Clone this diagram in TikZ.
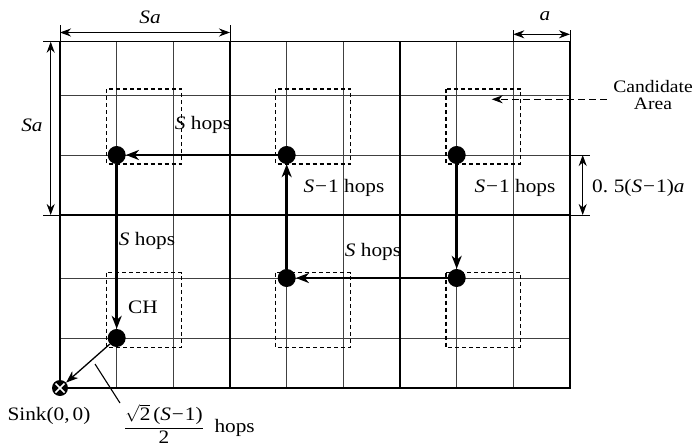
\documentclass[tikz,border=0pt]{standalone}
\usepackage{fontspec}
\setmainfont{Liberation Serif}[FakeStretch=1.12]
\usetikzlibrary{arrows.meta}
\newcommand{\smin}{\textit{S}\kern0.05em−\kern0.05em1}
\begin{document}
\begin{tikzpicture}[x=1pt,y=-1pt,
  font=\fontsize{19}{21}\selectfont,
  minor/.style={draw=black!75, line width=0.8pt},
  major/.style={draw=black, line width=1.3pt},
  extline/.style={draw=black, line width=1pt},
  dimarrow/.style={draw=black, line width=1.2pt, {Stealth[length=11pt,width=8pt,inset=3.5pt]}-{Stealth[length=11pt,width=8pt,inset=3.5pt]}},
  area/.style={draw=black, line width=1.2pt, dash pattern=on 4pt off 3pt},
  node dot/.style={circle, fill=black, inner sep=0pt, minimum size=18pt},
  route/.style={draw=black, line width=2.8pt, -{Stealth[length=13pt,width=10pt,inset=4pt]}},
  tosink/.style={draw=black, line width=1.3pt, -{Stealth[length=12pt,width=9pt,inset=3.5pt]}},
  lbl/.style={inner sep=1pt}
]
\useasboundingbox (0,0) rectangle (697,447);
\fill[white] (0,0) rectangle (697,447);

% minor grid lines
\foreach \x in {116.7,173.3,286.7,343.3,456.7,513.3}
  \draw[minor] (\x,41.7) -- (\x,388);
\foreach \y in {95,155,278,338}
  \draw[minor] (60,\y) -- (570,\y);

% major grid lines and border
\foreach \x in {230,400}
  \draw[major] (\x,41.7) -- (\x,388);
\draw[major] (60,215) -- (570,215);
\draw[major] (60,41.7) rectangle (570,388);

% extension lines for the dimensions
\draw[extline] (43,41.7) -- (60,41.7);
\draw[extline] (43,215) -- (60,215);
\draw[extline] (60,25) -- (60,41.7);
\draw[extline] (230,25) -- (230,41.7);
\draw[extline] (513.3,30) -- (513.3,41.7);
\draw[extline] (570,30) -- (570,41.7);
\draw[extline] (570,155) -- (590,155);
\draw[extline] (570,215) -- (590,215);

% dimension arrows
\coordinate (topL) at (60,32.5);
\coordinate (topR) at (230,32.5);
\coordinate (leftT) at (50.7,41.7);
\coordinate (leftB) at (50.7,215);
\coordinate (aL) at (513.3,34.3);
\coordinate (aR) at (570,34.3);
\coordinate (hT) at (582.7,155);
\coordinate (hB) at (582.7,215);
\draw[dimarrow] (topL) -- (topR);
\draw[dimarrow] (leftT) -- (leftB);
\draw[dimarrow] (aL) -- (aR);
\draw[dimarrow] (hT) -- (hB);
\node[lbl] (lsatop) at (150,17) {\textit{Sa}};
\node[lbl] (lsaleft) at (32,125) {\textit{Sa}};
\node[lbl] (la) at (545,16) {\textit{a}};
\node[lbl, anchor=west] (lhalf) at (591,188) {0.\hspace{0.3em}5(\smin)\textit{a}};

% candidate areas
\draw[area] (106.7,89) rectangle (181.7,164);
\draw[area] (275.7,89) rectangle (350.7,164);
\draw[area] (446,89) rectangle (520.3,164);
\draw[area] (106.7,272.7) rectangle (181.7,347.3);
\draw[area] (275.7,272.7) rectangle (350.7,347.3);
\draw[area] (446,272.7) rectangle (520.3,347.3);

% candidate area callout
\node[lbl, align=center, font=\fontsize{17.5}{16.5}\selectfont] (lcand) at (653,95) {Candidate\\Area};
\coordinate (candfrom) at (606.7,99.3);
\coordinate (candto) at (491.7,99.3);
\draw[draw=black, line width=1.1pt, dash pattern=on 7pt off 4pt, -{Stealth[length=11pt,width=8pt,inset=3.5pt]}] (candfrom) -- (candto);

% cluster heads
\node[node dot] (d1) at (116.7,155) {};
\node[node dot] (d2) at (286.7,155) {};
\node[node dot] (d3) at (456.7,155) {};
\node[node dot] (d4) at (456.7,278) {};
\node[node dot] (d5) at (286.7,278) {};
\node[node dot] (ch) at (116.7,338) {};
\node[circle, fill=black, inner sep=0pt, minimum size=16pt,
  path picture={\draw[white, line width=1.7pt]
    ([shift={(-4.5,-4.5)}]path picture bounding box.center) -- ([shift={(4.5,4.5)}]path picture bounding box.center)
    ([shift={(-4.5,4.5)}]path picture bounding box.center) -- ([shift={(4.5,-4.5)}]path picture bounding box.center);}]
  (sink) at (60,388) {};

% routing path
\draw[route] (d2) -- (d1);
\draw[route] (d1) -- (ch);
\draw[route] (d3) -- (d4);
\draw[route] (d4) -- (d5);
\draw[route] (d5) -- (d2);
\draw[tosink] (ch) -- (sink);

% hop labels
\node[lbl] (h1) at (203,125) {\textit{S} hops};
\node[lbl] (h2) at (344,188) {\smin{} hops};
\node[lbl] (h3) at (515,188) {\smin{} hops};
\node[lbl] (h4) at (373,252) {\textit{S} hops};
\node[lbl] (h5) at (147,241) {\textit{S} hops};
\node[lbl] (lch) at (143,307) {CH};

% sink label and diagonal hop count
\node[lbl] (lsink) at (49,416) {Sink(0,\,0)};
\node[lbl, anchor=west, inner sep=0pt] (lfrac) at (124,424)
  {$\displaystyle\frac{\sqrt{\mbox{2}}\,\mbox{(\smin)}}{\mbox{2}}$\ \ hops};
\coordinate (lead1) at (95,364);
\coordinate (lead2) at (120,403);
\draw[black, line width=1.1pt] (lead1) -- (lead2);
\end{tikzpicture}
\end{document}
